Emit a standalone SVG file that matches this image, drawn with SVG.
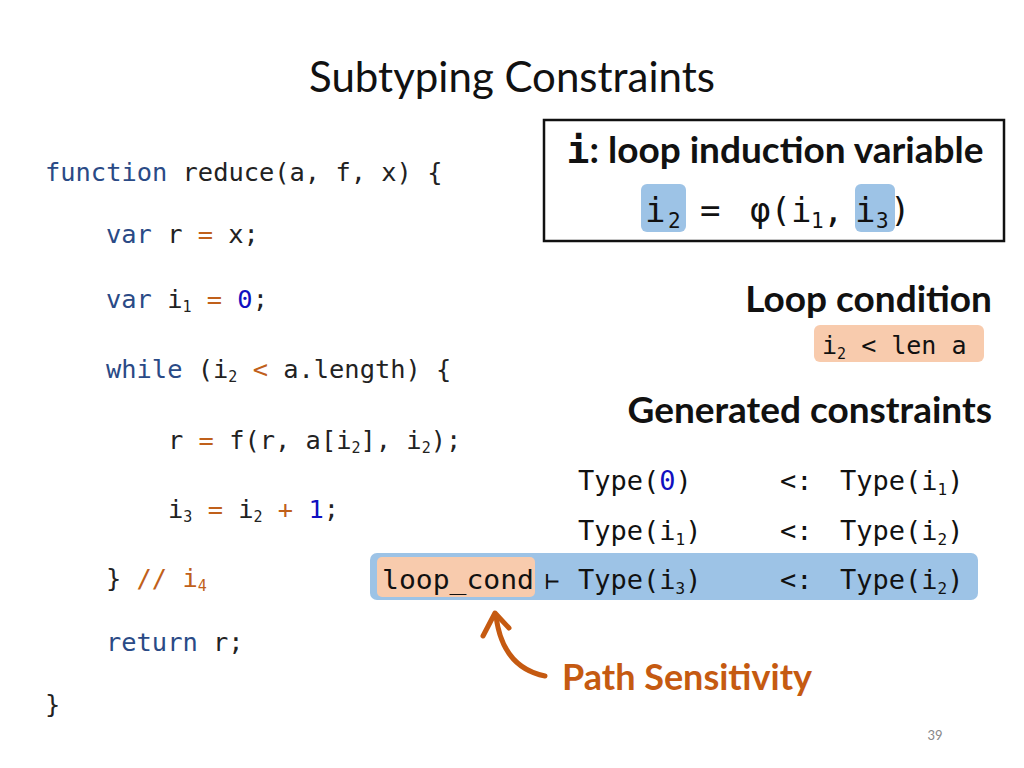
<svg xmlns="http://www.w3.org/2000/svg" width="1024" height="768" viewBox="0 0 1024 768">
<style>
.c{font-family:"DejaVu Sans Mono",monospace;font-size:25.4px;fill:#222}
.k{fill:#2a4a86}.o{fill:#c0601a}.n{fill:#1010c0}
.s{font-size:15px}
.h{font-family:Lato,"Liberation Sans",sans-serif;font-weight:bold;font-size:37px;fill:#111}
.m{font-family:"DejaVu Sans Mono",monospace;font-size:27px;fill:#111}
</style>
<rect width="1024" height="768" fill="#fff"/>
<text x="512" y="92" text-anchor="middle" font-family="Lato,'Liberation Sans',sans-serif" font-size="42" fill="#111">Subtyping Constraints</text>
<g id="code" class="c">
<text x="45" y="181"><tspan class="k">function</tspan> reduce(a, f, x) {</text>
<text x="106" y="243"><tspan class="k">var</tspan> r <tspan class="o">=</tspan> x;</text>
<text x="106" y="308"><tspan class="k">var</tspan> i<tspan class="s" dy="4">1</tspan><tspan dy="-4"> </tspan><tspan class="o">=</tspan> <tspan class="n">0</tspan>;</text>
<text x="106" y="378"><tspan class="k">while</tspan> (i<tspan class="s" dy="4">2</tspan><tspan dy="-4"> </tspan><tspan class="o">&lt;</tspan> a.length) {</text>
<text x="168" y="449">r <tspan class="o">=</tspan> f(r, a[i<tspan class="s" dy="4">2</tspan><tspan dy="-4">], i</tspan><tspan class="s" dy="4">2</tspan><tspan dy="-4">);</tspan></text>
<text x="168" y="518">i<tspan class="s" dy="4">3</tspan><tspan dy="-4"> </tspan><tspan class="o">=</tspan> i<tspan class="s" dy="4">2</tspan><tspan dy="-4"> </tspan><tspan class="o">+</tspan> <tspan class="n">1</tspan>;</text>
<text x="106" y="587">} <tspan class="o">// i</tspan><tspan class="o s" dy="4">4</tspan></text>
<text x="106" y="651"><tspan class="k">return</tspan> r;</text>
<text x="45" y="713">}</text>
</g>
<g id="induction">
<rect x="544" y="120" width="460" height="121" fill="#fff" stroke="#111" stroke-width="2.5"/>
<rect x="641" y="184" width="45" height="48" rx="6" fill="#9dc3e6"/>
<rect x="855" y="184" width="40" height="48" rx="6" fill="#9dc3e6"/>
<text x="775" y="163" text-anchor="middle" class="h"><tspan font-family="'DejaVu Sans Mono',monospace" font-size="38">i</tspan>: loop induction variable</text>
<g font-family="'DejaVu Sans Mono',monospace" font-size="34" fill="#111">
<text x="645" y="222">i</text><text x="668" y="228" font-size="21">2</text>
<text x="700" y="222">=</text>
<text x="750" y="222">φ(i</text><text x="811" y="228" font-size="21">1</text>
<text x="823" y="222">,</text>
<text x="855" y="222">i</text><text x="876" y="228" font-size="21">3</text>
<text x="890" y="222">)</text>
</g>
</g>
<g id="loopcond">
<text x="992" y="312" text-anchor="end" class="h">Loop condition</text>
<rect x="814" y="325" width="170" height="37" rx="6" fill="#f8cbad"/>
<text x="822" y="354" font-family="'DejaVu Sans Mono',monospace" font-size="25" fill="#111">i<tspan font-size="15" dy="5">2</tspan><tspan dy="-5"> &lt; len a</tspan></text>
</g>
<g id="constraints">
<text x="992" y="423" text-anchor="end" class="h">Generated constraints</text>
<rect x="370" y="553" width="608" height="47" rx="7" fill="#9dc3e6"/>
<rect x="377" y="557" width="158" height="40" rx="5" fill="#f8cbad"/>
<g class="m">
<text x="578" y="490">Type(<tspan fill="#1010c0">0</tspan>)</text>
<text x="780" y="490">&lt;:</text>
<text x="840" y="490">Type(i<tspan font-size="16" dy="5">1</tspan><tspan dy="-5">)</tspan></text>
<text x="578" y="540">Type(i<tspan font-size="16" dy="5">1</tspan><tspan dy="-5">)</tspan></text>
<text x="780" y="540">&lt;:</text>
<text x="840" y="540">Type(i<tspan font-size="16" dy="5">2</tspan><tspan dy="-5">)</tspan></text>
<text x="382" y="589" textLength="152" lengthAdjust="spacingAndGlyphs">loop_cond</text>
<text x="545" y="589" font-size="24">⊢</text>
<text x="578" y="589">Type(i<tspan font-size="16" dy="5">3</tspan><tspan dy="-5">)</tspan></text>
<text x="780" y="589">&lt;:</text>
<text x="840" y="589">Type(i<tspan font-size="16" dy="5">2</tspan><tspan dy="-5">)</tspan></text>
</g>
</g>
<g id="connectors" fill="none" stroke="#c55a11" stroke-width="5" stroke-linecap="round" stroke-linejoin="round">
<path d="M545 676 C515 670 500 648 496 616"/>
<path d="M483 636 L495 613 L509 628"/>
</g>
<text id="pathsens" x="562" y="690" font-family="Lato,'Liberation Sans',sans-serif" font-weight="bold" font-size="36" fill="#c55a11">Path Sensitivity</text>
<text x="935" y="740" text-anchor="middle" font-family="Lato,'Liberation Sans',sans-serif" font-size="13" fill="#888">39</text>
</svg>
